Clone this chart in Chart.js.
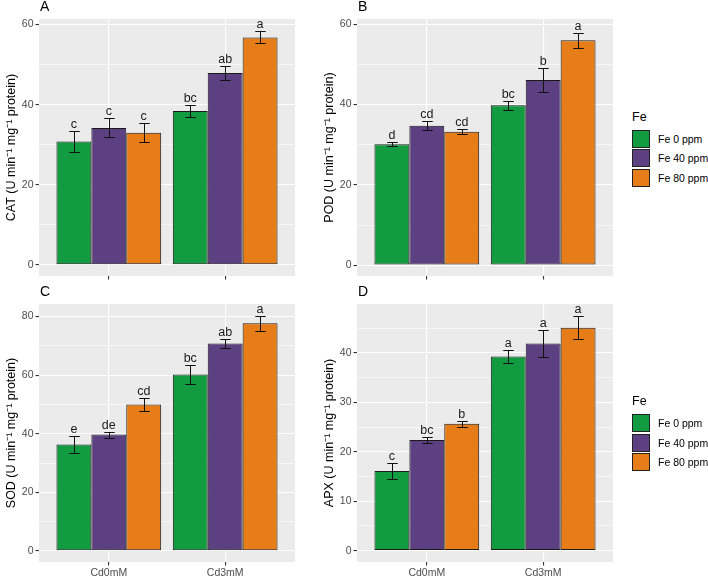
<!DOCTYPE html>
<html>
<head>
<meta charset="utf-8">
<script src="https://cdn.jsdelivr.net/npm/chart.js@4.4.1/dist/chart.umd.min.js"></script>
<style>
  body { margin: 0; background: #fff; width: 708px; height: 577px; overflow: hidden; position: relative;
         font-family: "Liberation Sans", Arial, sans-serif; }
  canvas { position: absolute; }
  .leg { position: absolute; white-space: nowrap; color: #000; }
  .key { position: absolute; width: 18px; height: 18px; box-sizing: border-box; border: 1px solid #222; }
</style>
</head>
<body>
<canvas id="pA" width="300" height="290" style="left:0;top:0"></canvas>
<canvas id="pB" width="300" height="290" style="left:318px;top:0"></canvas>
<canvas id="pC" width="300" height="292" style="left:0;top:285px"></canvas>
<canvas id="pD" width="300" height="292" style="left:318px;top:285px"></canvas>
<script>
// --- data (rows = Fe level, columns = Cd group) ---
const groups = ['Cd0mM', 'Cd3mM'];
const feLevels = ['Fe 0 ppm', 'Fe 40 ppm', 'Fe 80 ppm'];
const feColors = ['#129b41', '#5c4081', '#e67d18'];

const catMean = [[30.8, 38.4], [34.2, 47.9], [33.0, 56.8]];
const catSe = [[2.7, 1.6], [2.4, 1.8], [2.3, 1.5]];
const catLetters = [['c', 'bc'], ['c', 'ab'], ['c', 'a']];

const podMean = [[30.1, 39.8], [34.7, 46.1], [33.2, 56.0]];
const podSe = [[0.5, 1.2], [1.1, 3.0], [0.6, 1.9]];
const podLetters = [['d', 'bc'], ['cd', 'b'], ['cd', 'a']];

const sodMean = [[36.3, 60.2], [39.7, 70.8], [50.0, 77.7]];
const sodSe = [[2.8, 3.1], [1.0, 1.5], [2.2, 2.5]];
const sodLetters = [['e', 'bc'], ['de', 'ab'], ['cd', 'a']];

const apxMean = [[16.1, 39.3], [22.4, 41.9], [25.65, 45.1]];
const apxSe = [[1.7, 1.25], [0.65, 2.65], [0.6, 2.35]];
const apxLetters = [['c', 'a'], ['bc', 'a'], ['b', 'a']];

// y ticks
const ticks60 = [0, 20, 40, 60];
const minor60 = [10, 30, 50];
const ticks80 = [0, 20, 40, 60, 80];
const minor80 = [10, 30, 50, 70];
const ticksApx = [0, 10, 20, 30, 40];
const minorApx = [5, 15, 25, 35, 45];

const FONT = '"Liberation Sans", Arial, sans-serif';

// grey ggplot panel
const panelBg = {
    id: 'panelBg',
    beforeDraw(chart) {
        const { ctx, chartArea: a } = chart;
        ctx.save();
        ctx.fillStyle = '#ebebeb';
        ctx.fillRect(a.left, a.top, a.right - a.left, a.bottom - a.top);
        ctx.restore();
    }
};

// error bars, letters and the panel tag
const errBars = {
    id: 'errBars',
    afterDatasetsDraw(chart, args, opts) {
        const ctx = chart.ctx;
        const ys = chart.scales.y;
        ctx.save();
        chart.data.datasets.forEach((ds, i) => {
            chart.getDatasetMeta(i).data.forEach((bar, j) => {
                const v = ds.data[j].y, e = opts.se[i][j];
                const top = Math.round(ys.getPixelForValue(v + e)) + 0.5;
                const bot = Math.round(ys.getPixelForValue(v - e)) + 0.5;
                const x = Math.round(bar.x) + 0.5;
                const half = bar.width * 0.15;
                ctx.strokeStyle = '#111';
                ctx.lineWidth = 1;
                ctx.beginPath();
                ctx.moveTo(x, top); ctx.lineTo(x, bot);
                ctx.moveTo(x - half, top); ctx.lineTo(x + half, top);
                ctx.moveTo(x - half, bot); ctx.lineTo(x + half, bot);
                ctx.stroke();
                ctx.fillStyle = '#1a1a1a';
                ctx.font = '12.5px ' + FONT;
                ctx.textAlign = 'center';
                ctx.textBaseline = 'alphabetic';
                ctx.fillText(opts.letters[i][j], bar.x, top - 4);
            });
        });
        ctx.fillStyle = '#000';
        ctx.font = '14px ' + FONT;
        ctx.textAlign = 'left';
        ctx.fillText(opts.tag, chart.chartArea.left + 1, 10.5);
        ctx.restore();
    }
};

function makePanel(id, tag, title, means, se, letters, majors, minors, yMin, yMax, showX) {
    const allTicks = majors.concat(minors).sort((a, b) => a - b);
    new Chart(document.getElementById(id), {
        type: 'bar',
        data: {
            datasets: feLevels.map((name, i) => ({
                label: name,
                data: groups.map((g, j) => ({ x: j + 1, y: means[i][j] })),
                backgroundColor: feColors[i],
                borderColor: '#1a1a1a',
                borderWidth: 1,
                borderSkipped: false,
                categoryPercentage: 0.9,
                barPercentage: 1
            }))
        },
        options: {
            responsive: false,
            animation: false,
            devicePixelRatio: 1,
            layout: { padding: { top: 19, right: 5, left: 0, bottom: 0 } },
            plugins: {
                legend: { display: false },
                tooltip: { enabled: false },
                errBars: { se: se, letters: letters, tag: tag }
            },
            scales: {
                x: {
                    type: 'linear', min: 0.4, max: 2.6, offset: false,
                    afterBuildTicks: s => { s.ticks = groups.map((g, i) => ({ value: i + 1 })); },
                    afterFit: s => { s.height = showX ? 15 : 14; },
                    border: { display: false },
                    grid: { offset: false, color: '#fff', lineWidth: 1.1, tickColor: '#333', tickLength: 3.5 },
                    ticks: {
                        display: showX, autoSkip: false, maxRotation: 0, padding: 1,
                        color: '#4d4d4d', font: { size: 10.5, family: FONT },
                        callback: (v, i) => groups[i]
                    }
                },
                y: {
                    min: yMin, max: yMax,
                    afterBuildTicks: s => { s.ticks = allTicks.map(v => ({ value: v, major: majors.includes(v) })); },
                    afterFit: s => { s.width = 39; },
                    border: { display: false },
                    grid: {
                        color: '#fff',
                        lineWidth: c => (c.tick && c.tick.major) ? 1.1 : 0.55,
                        tickColor: c => (c.tick && c.tick.major) ? '#333' : 'rgba(0,0,0,0)',
                        tickLength: 3.5
                    },
                    ticks: {
                        autoSkip: false, padding: 2, color: '#4d4d4d',
                        font: { size: 10.5, family: FONT },
                        callback: (v, i, t) => t[i].major ? String(v) : ''
                    },
                    title: {
                        display: true, text: title, color: '#000',
                        font: { size: 12.5, family: FONT },
                        padding: { top: 4, bottom: 0 }
                    }
                }
            }
        },
        plugins: [panelBg, errBars]
    });
}

makePanel('pA', 'A', 'CAT (U min⁻¹ mg⁻¹ protein)', catMean, catSe, catLetters, ticks60, minor60, -2.8, 61.4, false);
makePanel('pB', 'B', 'POD (U min⁻¹ mg⁻¹ protein)', podMean, podSe, podLetters, ticks60, minor60, -2.7, 61.3, false);
makePanel('pC', 'C', 'SOD (U min⁻¹ mg⁻¹ protein)', sodMean, sodSe, sodLetters, ticks80, minor80, -3.8, 84.3, true);
makePanel('pD', 'D', 'APX (U min⁻¹ mg⁻¹ protein)', apxMean, apxSe, apxLetters, ticksApx, minorApx, -2.3, 49.9, true);

// legends (one per row, like the two ggplot rows)
function addLegend(top) {
    const t = document.createElement('div');
    t.className = 'leg';
    t.style.cssText = `left:632px;top:${top}px;font-size:12.5px;line-height:15px`;
    t.textContent = 'Fe';
    document.body.appendChild(t);
    feLevels.forEach((name, i) => {
        const y = top + 20 + i * 19.5;
        const k = document.createElement('div');
        k.className = 'key';
        k.style.cssText = `left:632px;top:${y}px;background:${feColors[i]}`;
        document.body.appendChild(k);
        const l = document.createElement('div');
        l.className = 'leg';
        l.style.cssText = `left:658px;top:${y}px;font-size:10.5px;line-height:18px`;
        l.textContent = name;
        document.body.appendChild(l);
    });
}
addLegend(109.5);
addLegend(394);
</script>
</body>
</html>
